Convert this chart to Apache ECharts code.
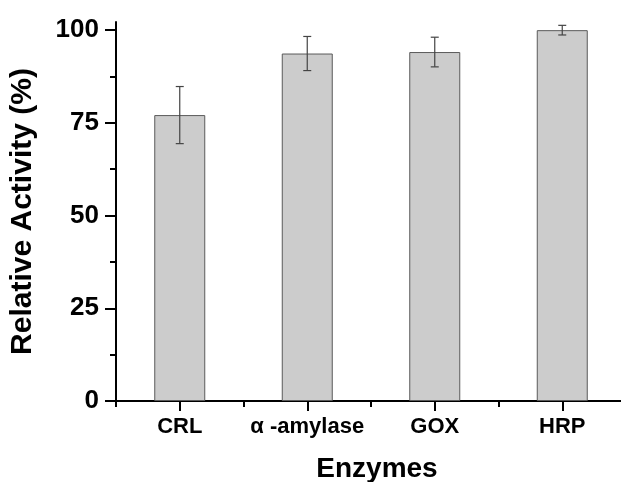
<!DOCTYPE html>
<html>
<head>
<meta charset="utf-8">
<script src="https://cdn.jsdelivr.net/npm/echarts@6/dist/echarts.min.js"></script>
<style>html,body{margin:0;padding:0;background:#fff;}#c{width:621px;height:482px;}</style>
</head>
<body>
<div id="c"></div>
<script>
var categories = ['CRL', 'α -amylase', 'GOX', 'HRP'];
var activity = [77.1, 93.7, 94.1, 100.0];
var errors = [7.7, 4.6, 4.0, 1.3];
var majorTicks = [0, 25, 50, 75, 100];
var minorTicks = [12.5, 37.5, 62.5, 87.5];

var FONT = 'Liberation Sans, Arial, sans-serif';
var chart = echarts.init(document.getElementById('c'), null, {renderer: 'canvas'});
var errData = categories.map(function (c, i) {
  return [i, activity[i] - errors[i], activity[i] + errors[i]];
});
chart.setOption({
  animation: false,
  backgroundColor: '#ffffff',
  grid: {left: 116, top: 22, bottom: 81, right: -5, containLabel: false, outerBoundsMode: 'none'},
  xAxis: [{
    type: 'category', data: categories, position: 'bottom',
    axisLine: {lineStyle: {color: '#000', width: 2}},
    axisTick: {show: true, interval: 0, alignWithLabel: true, length: 10, lineStyle: {color: '#000', width: 2}},
    axisLabel: {interval: 0, color: '#000', fontFamily: FONT, fontWeight: 'bold', fontSize: 22, margin: 15},
    name: 'Enzymes', nameLocation: 'middle', nameGap: 54,
    nameTextStyle: {color: '#000', fontFamily: FONT, fontWeight: 'bold', fontSize: 28, padding: [0, 0, 0, 12]}
  }, {
    type: 'category', data: categories, position: 'bottom',
    axisLine: {show: false},
    axisTick: {show: true, interval: 0, length: 6, lineStyle: {color: '#000', width: 2}},
    axisLabel: {show: false}
  }],
  yAxis: [{
    type: 'value', min: 0, max: 102.2, position: 'left',
    axisLine: {show: true, lineStyle: {color: '#000', width: 2}},
    axisTick: {show: true, length: 11, customValues: majorTicks, lineStyle: {color: '#000', width: 2}},
    axisLabel: {customValues: majorTicks, color: '#000', fontFamily: FONT, fontWeight: 'bold', fontSize: 26, margin: 17},
    splitLine: {show: false},
    name: 'Relative Activity (%)', nameLocation: 'middle', nameGap: 78, nameRotate: 90,
    nameTextStyle: {color: '#000', fontFamily: FONT, fontWeight: 'bold', fontSize: 30}
  }, {
    type: 'value', min: 0, max: 102.2, position: 'left',
    axisLine: {show: false},
    axisTick: {show: true, length: 6, customValues: minorTicks, lineStyle: {color: '#000', width: 2}},
    axisLabel: {show: false},
    splitLine: {show: false}
  }],
  series: [{
    type: 'bar', data: activity, barWidth: '40%', xAxisIndex: 0, yAxisIndex: 0,
    itemStyle: {color: '#cccccc', borderColor: '#5a5a5a', borderWidth: 1}
  }, {
    type: 'custom', xAxisIndex: 0, yAxisIndex: 0, data: errData, z: 10,
    renderItem: function (params, api) {
      var x = api.value(0);
      var lo = api.coord([x, api.value(1)]);
      var hi = api.coord([x, api.value(2)]);
      var hw = 4;
      var st = {stroke: '#444', lineWidth: 1.2};
      return {type: 'group', children: [
        {type: 'line', shape: {x1: lo[0], y1: lo[1], x2: hi[0], y2: hi[1]}, style: st},
        {type: 'line', shape: {x1: lo[0] - hw, y1: lo[1], x2: lo[0] + hw, y2: lo[1]}, style: st},
        {type: 'line', shape: {x1: hi[0] - hw, y1: hi[1], x2: hi[0] + hw, y2: hi[1]}, style: st}
      ]};
    }
  }]
});
</script>
</body>
</html>
